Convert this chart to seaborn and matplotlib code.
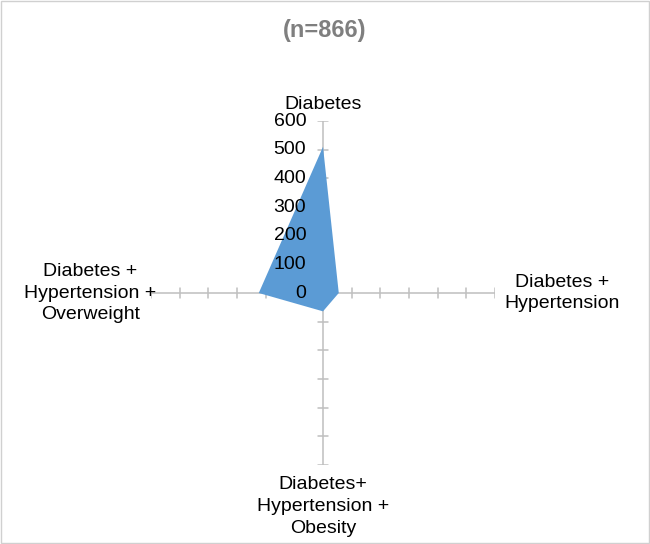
import numpy as np
import matplotlib
matplotlib.use('Agg')
import matplotlib.pyplot as plt
import seaborn as sns
from matplotlib.patches import Rectangle

# data
categories = ['Diabetes', 'Diabetes +\nHypertension',
              'Diabetes+\nHypertension +\nObesity',
              'Diabetes +\nHypertension +\nOverweight']
values = [510, 55, 64, 224]
r_ticks = [0, 100, 200, 300, 400, 500, 600]
title = '(n=866)'

sns.set_theme(style='white')
plt.rcParams['font.family'] = ['Liberation Sans', 'DejaVu Sans']

fill_color = '#5B9BD5'
axis_color = '#BFBFBF'

fig = plt.figure(figsize=(6.5, 5.44), dpi=100)
fig.patches.append(Rectangle((0.0015, 0.002), 0.997, 0.996, transform=fig.transFigure,
                             fill=False, edgecolor='#D0D0D0', linewidth=1))

cx, cy, rad = 323 / 650, 1 - 293 / 544, 172
ax = fig.add_axes([cx - rad / 650, cy - rad / 544, 2 * rad / 650, 2 * rad / 544],
                  projection='polar')
ax.set_theta_offset(np.pi / 2)
ax.set_theta_direction(-1)
ax.set_ylim(0, 600)
ax.grid(False)
ax.spines['polar'].set_visible(False)
ax.set_xticks([])
ax.set_yticks([])
ax.patch.set_alpha(0)

angles = np.linspace(0, 2 * np.pi, len(categories), endpoint=False)

# spokes with tick marks
h = 17
for a in angles:
    ax.plot([a, a], [0, 600], color=axis_color, lw=1.1, zorder=1)
    for r in r_ticks[1:]:
        rr = np.hypot(r, h)
        da = np.arctan2(h, r)
        ax.plot([a - da, a + da], [rr, rr], color=axis_color, lw=1.1, zorder=1)

# filled series
th = np.append(angles, angles[0])
vv = np.append(values, values[0])
ax.fill(th, vv, color=fill_color, lw=0, zorder=2)

# radial labels along the top spoke
for r in r_ticks:
    ax.annotate(str(r), (0, r), xytext=(-12, 0), textcoords='offset points',
                ha='right', va='center', fontsize=14, color='black', zorder=3)

# category labels
offsets = [((0, 6), 'center', 'bottom'), ((7, 0), 'left', 'center'),
           ((0, -8), 'center', 'top'), ((4, 0), 'right', 'center')]
for a, lab, (off, ha, va) in zip(angles, categories, offsets):
    ax.annotate(lab, (a, 600), xytext=off, textcoords='offset points',
                ha=ha, va=va, multialignment='center', fontsize=14,
                color='black', linespacing=1.38, annotation_clip=False)

fig.text(0.5, 1 - 30 / 544, title, ha='center', va='center', fontsize=17,
         fontweight='bold', color='#7F7F7F')

fig.savefig('out.png', dpi=100)
